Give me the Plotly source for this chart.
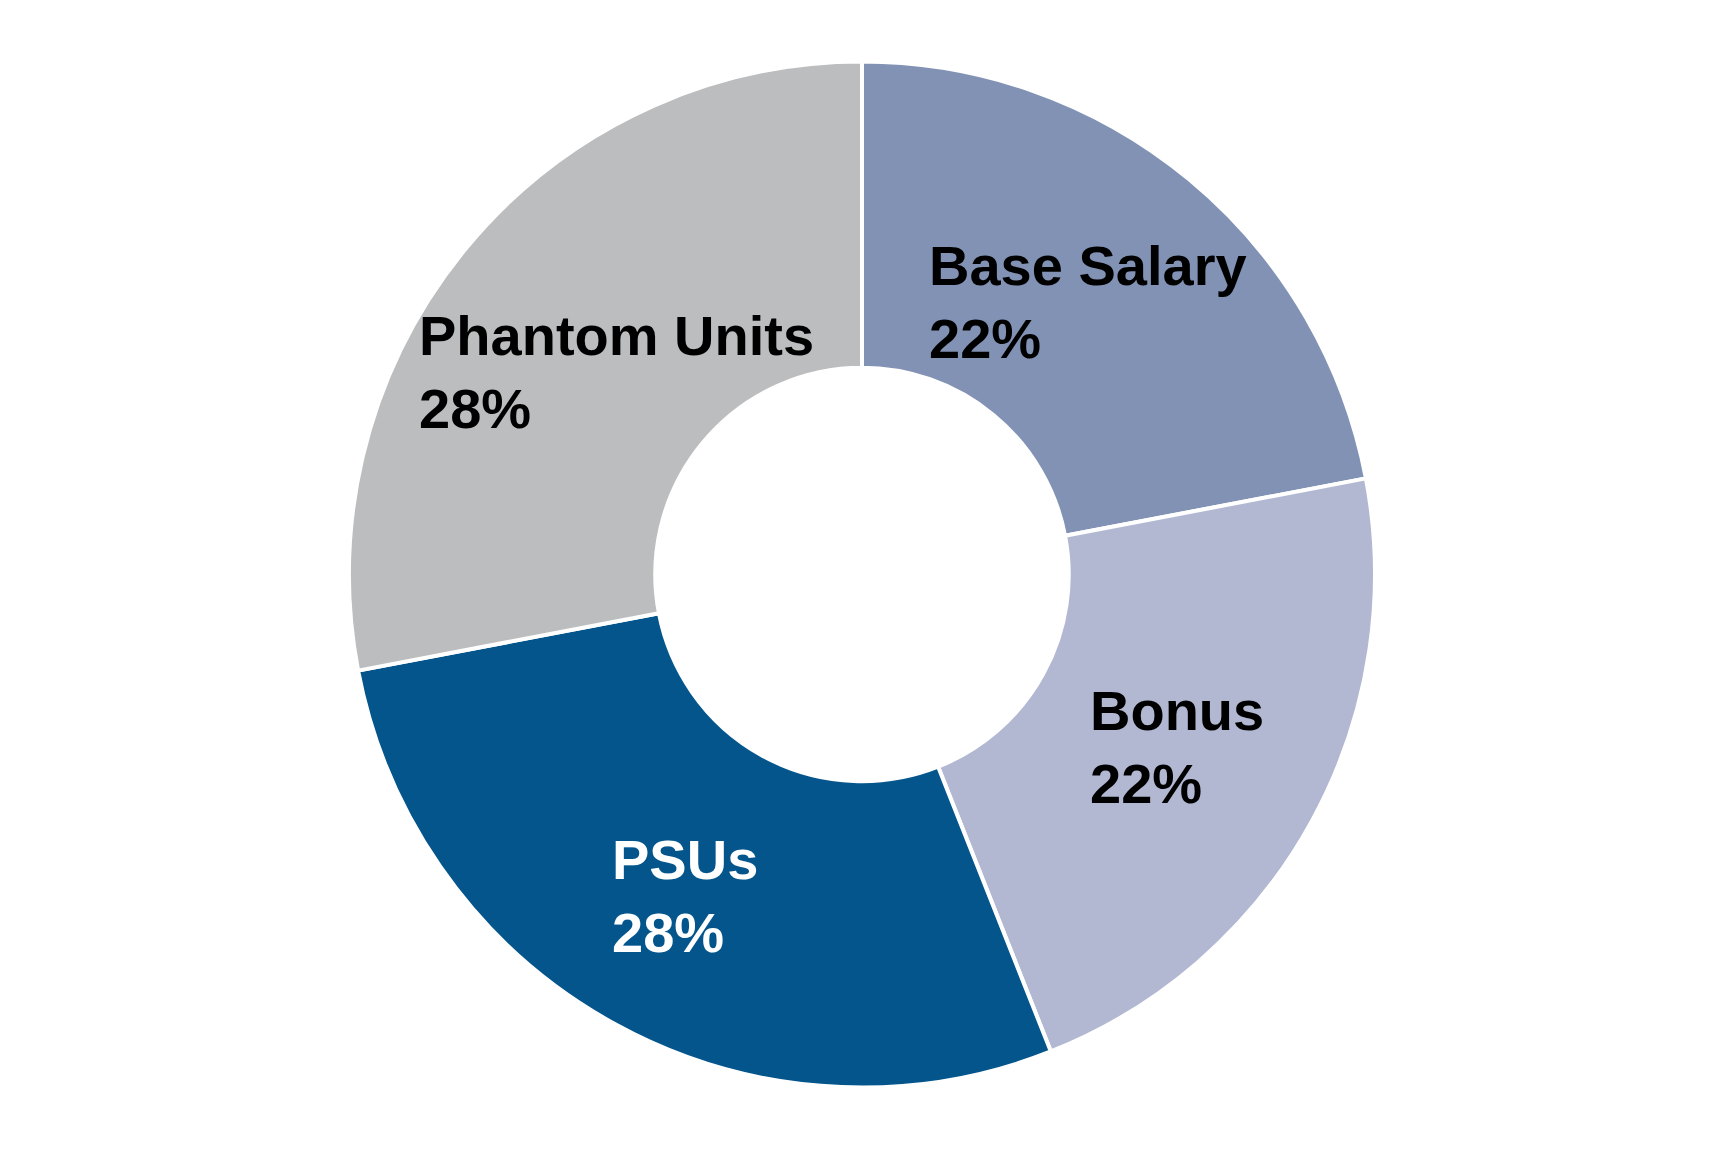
import math
import plotly.graph_objects as go

categories = ["Base Salary", "Bonus", "PSUs", "Phantom Units"]
values = [22, 22, 28, 28]
colors = ["#8292B5", "#B2B8D2", "#03558C", "#BCBDBF"]
label_colors = ["#000000", "#000000", "#FFFFFF", "#000000"]

# label placement (fraction of outer radius), layout only
label_radius = [0.69, 0.70, 0.715, 0.62]

W, H = 1728, 1152
cx, cy = 854, 566.5
R = 513
hole = 0.403

fig = go.Figure()
fig.add_trace(go.Pie(
    labels=categories,
    values=values,
    sort=False,
    direction="clockwise",
    rotation=0,
    hole=hole,
    marker=dict(colors=colors, line=dict(color="#FFFFFF", width=4)),
    textinfo="none",
    hoverinfo="label+percent",
    showlegend=False,
    domain=dict(x=[(cx - R) / W, (cx + R) / W], y=[1 - (cy + R) / H, 1 - (cy - R) / H]),
))

total = sum(values)
cum = 0
annotations = []
for cat, v, tc, rf in zip(categories, values, label_colors, label_radius):
    mid = cum + v / 2
    cum += v
    theta = math.radians(90 - 360 * mid / total)
    px = cx + rf * R * math.cos(theta)
    py = cy - rf * R * math.sin(theta)
    pct = round(100 * v / total)
    annotations.append(dict(
        x=px / W, y=1 - py / H, xref="paper", yref="paper",
        text=f"{cat}<br>{pct}%", showarrow=False, align="left",
        xanchor="center", yanchor="middle",
        font=dict(family="Liberation Sans, Arial, sans-serif", size=56, color=tc, weight="bold"),
    ))

fig.update_layout(
    width=W, height=H,
    margin=dict(l=0, r=0, t=0, b=0),
    paper_bgcolor="#FFFFFF",
    plot_bgcolor="#FFFFFF",
    annotations=annotations,
)

fig.write_html("out.html")
